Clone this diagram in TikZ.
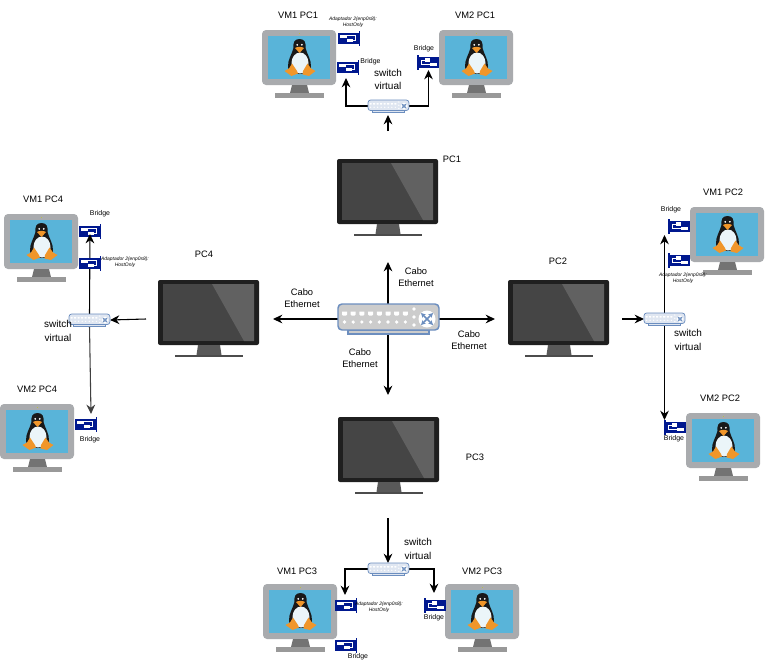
\documentclass[tikz,border=0pt]{standalone}
\usepackage{fontspec}
\setmainfont{Liberation Sans}
\usetikzlibrary{arrows.meta}
\definecolor{nicblue}{HTML}{00188F}
\definecolor{swline}{HTML}{6C8EBF}
\definecolor{screenblue}{HTML}{59B4D9}
\definecolor{bezel}{HTML}{A9ABAE}
\definecolor{pengorange}{HTML}{F0962A}
\definecolor{dotyellow}{HTML}{B9BE4A}
\newcommand\drawsw[3]{%
  \fill[#2,draw=swline,line width=#1] (10,26) rectangle (91,30);
  \fill[#2,draw=swline,line width=#1,rounded corners=#3] (0,0) rectangle (101,26);
  \foreach \i in {0,...,7}{
    \fill[white] (4+\i*8.7,7.5) -- ++(5,0) -- ++(0,3) -- ++(-1.2,1.2) -- ++(-2.6,0) -- ++(-1.2,-1.2) -- cycle;
    \fill[white] (6.5+\i*8.7,18) circle[radius=1.8];
  }
  \foreach \j in {5,13,21}{\fill[white] (76,\j) circle[radius=1.8];}
  \fill[white] (89,15) circle[radius=8.5];
  \draw[swline,line width=#1,{Stealth[length=3.2*#1,width=3.2*#1]}-{Stealth[length=3.2*#1,width=3.2*#1]}] (83,9) -- (95,21);
  \draw[swline,line width=#1,{Stealth[length=3.2*#1,width=3.2*#1]}-{Stealth[length=3.2*#1,width=3.2*#1]}] (95,9) -- (83,21);
}
\tikzset{
  x=0.75pt,y=-0.75pt,
  >={Stealth[length=7pt,width=6.5pt]},
  conn/.style={draw=black,line width=0.8pt},
  lab/.style={inner sep=0pt,font=\fontsize{7}{8}\selectfont},
  swlab/.style={inner sep=0pt,font=\fontsize{7.5}{9}\selectfont},
  brlab/.style={inner sep=0pt,font=\fontsize{5.2}{6}\selectfont},
  tinylab/.style={inner sep=0pt,font=\fontsize{3.7}{4.4}\selectfont\itshape,align=center},
  hitbox/.style={inner sep=0pt,outer sep=0pt},
  pics/hubsw/.style={code={\drawsw{1.1pt}{black!20}{3pt}}},
  pics/smallsw/.style={code={\drawsw{0.55pt}{swline!22!white}{2pt}}},
  pics/nicright/.style={code={
    \fill[nicblue] (0,1.5) rectangle (20.5,13);
    \fill[nicblue] (20.5,0) rectangle (22,14.5);
    \fill[white] (1.5,3.5) rectangle (8.5,7);
    \fill[white] (8.5,7.5) rectangle (14.5,11);
    \draw[white,line width=0.35pt] (8.5,4.5) -- (17.5,4.5) -- (17.5,9) -- (14.5,9);
  }},
  pics/nicleft/.style={code={
    \fill[nicblue] (1.5,1.5) rectangle (22,13);
    \fill[nicblue] (0,0) rectangle (1.5,14.5);
    \fill[white] (7.5,3) rectangle (13,7);
    \fill[white] (13,7.5) rectangle (20,10.5);
    \draw[white,line width=0.35pt] (7.5,5) -- (4,5) -- (4,9) -- (13,9);
  }},
  pics/vmpic/.style={code={
    \fill[bezel,rounded corners=3pt] (0,0) rectangle (74,55);
    \fill[screenblue] (6,6) rectangle (68,49);
    \fill[dotyellow] (36.6,2.5) rectangle (37.8,3.7);
    \fill[black!55] (30,55) -- (45,55) -- (47,63) -- (28,63) -- cycle;
    \fill[black!40] (13,63) rectangle (62,68);
    % penguin
    \fill[black!90] (37.5,9) .. controls (32,9) and (31,13) .. (31.5,18)
       .. controls (30,24) and (25.5,30) .. (26,37) .. controls (26,41) and (31,44) .. (37.5,44)
       .. controls (44,44) and (49,41) .. (49,37) .. controls (49.5,30) and (45,24) .. (43.5,18)
       .. controls (44,13) and (43,9) .. (37.5,9) -- cycle;
    \fill[black!5!screenblue!12!white] (38,33) ellipse[x radius=8.5,y radius=10.5];
    \fill[black!90] (32,17.5) rectangle (43,22);
    \fill[white] (35.2,14.8) circle[radius=1];
    \fill[white] (39.8,14.8) circle[radius=1];
    \fill[pengorange] (33,18) .. controls (35,16.5) and (40,16.5) .. (42,18) -- (37.5,23) -- cycle;
    \fill[pengorange] (30,33.5) -- (35,41) -- (36,43.5) -- (29.5,46) -- (22.5,41) -- (27,38.5) -- cycle;
    \fill[pengorange] (45.5,33.5) -- (41,41) -- (40.5,44.5) -- (47,46) -- (53.5,41) -- (49,38.5) -- cycle;
  }},
  pics/pcpic/.style={code={
    \fill[black!88,rounded corners=1.5pt] (0,0) rectangle (101,65);
    \fill[black!73] (5,4) rectangle (96,61);
    \fill[black!62] (54,4) -- (96,4) -- (96,61) -- (86,61) -- cycle;
    \fill[black!65] (40,65) -- (62,65) -- (63.5,75) -- (38.5,75) -- cycle;
    \fill[black!70] (17,75) rectangle (85,77);
  }},
}
\begin{document}
\begin{tikzpicture}
\useasboundingbox (0,0) rectangle (765,664);
\fill[white] (0,0) rectangle (765,664);

% anchors of the connectors
\node[hitbox,minimum width=75.75pt,minimum height=22.5pt] (hub) at (388.5,319) {};
\node[hitbox,minimum width=30.75pt,minimum height=9pt] (swa) at (388.5,106) {};
\node[hitbox,minimum width=30.75pt,minimum height=9pt] (swb) at (664.5,319) {};
\node[hitbox,minimum width=30.75pt,minimum height=9pt] (swc) at (388.5,569) {};
\node[hitbox,minimum width=30.75pt,minimum height=9pt] (swd) at (89.5,320) {};
\coordinate (hubN) at (388,262);
\coordinate (hubE) at (495,319);
\coordinate (hubS) at (388,395);
\coordinate (hubW) at (273,319);
\coordinate (aIn) at (388,131);
\coordinate (aTop) at (388,115);
\coordinate (aL) at (346,78);
\coordinate (aR) at (428.5,70);
\coordinate (bIn) at (622,319);
\coordinate (bU) at (664.5,235);
\coordinate (bD) at (664.5,420);
\coordinate (cIn) at (388,518);
\coordinate (cL) at (345,595);
\coordinate (cR) at (434,593);
\coordinate (dIn) at (146,319);
\coordinate (dU) at (90,234);
\coordinate (dD) at (91,414);

% computers
\pic at (337,159) {pcpic};
\pic at (508,280) {pcpic};
\pic at (338,417) {pcpic};
\pic at (158,280) {pcpic};
% virtual machines
\pic at (262,30) {vmpic};
\pic at (439,30) {vmpic};
\pic at (690,207) {vmpic};
\pic at (686,413) {vmpic};
\pic at (263,584) {vmpic};
\pic at (445,584) {vmpic};
\pic at (4,214) {vmpic};
\pic at (0,404) {vmpic};

% connectors
\draw[conn,->] (hub.north -| hubN) -- (hubN);
\draw[conn,->] (hub.east) -- (hubE);
\draw[conn,->] (hub.south -| hubS) -- (hubS);
\draw[conn,->] (hub.west) -- (hubW);
\draw[conn,->] (aIn) -- (aTop);
\draw[conn,->] (swa.west) -| (aL);
\draw[conn,->] (swa.east) -| (aR);
\draw[conn,->] (bIn) -- (swb.west);
\draw[conn,->] (swc.west) -| (cL);
\draw[conn,->] (swc.east) -| (cR);
\draw[conn,->] (cIn) -- (swc.north -| cIn);
\draw[conn,->] (dIn) -- (swd.east);

% network cards
\pic at (338,31) {nicright};
\pic at (337,60) {nicright};
\pic at (417,55) {nicleft};
\pic at (79,224) {nicright};
\pic at (75,417) {nicright};
\pic at (668,219) {nicleft};
\pic at (668,253) {nicleft};
\pic at (664,420) {nicleft};
\pic at (335,598) {nicright};
\pic at (335,638) {nicright};
\pic at (424,598) {nicleft};

\draw[conn,->] (swb.north) -- (bU);
\draw[conn,->] (swb.south) -- (bD);
\draw[conn,->] (swd.north) -- (dU);
\draw[conn,->,black!75] (swd.south) -- (dD);
\pic at (79,256) {nicright};

% switches
\pic at (338,304) {hubsw};
\pic[scale=0.405] at (368,100) {smallsw};
\pic[scale=0.405] at (644,313) {smallsw};
\pic[scale=0.405] at (368,563) {smallsw};
\pic[scale=0.405] at (69,314) {smallsw};

% labels
\node[lab] (l1) at (298,15) {VM1 PC1};
\node[lab] (l2) at (475,15) {VM2 PC1};
\node[lab] (l3) at (43,199) {VM1 PC4};
\node[lab] (l4) at (37,389) {VM2 PC4};
\node[lab] (l5) at (723,192) {VM1 PC2};
\node[lab] (l6) at (720,398) {VM2 PC2};
\node[lab] (l7) at (297,571) {VM1 PC3};
\node[lab] (l8) at (482,571) {VM2 PC3};
\node[lab] (p1) at (452,159) {PC1};
\node[lab] (p2) at (558,261) {PC2};
\node[lab] (p3) at (475,457) {PC3};
\node[lab] (p4) at (204,254) {PC4};
\node[lab,align=center] (c1) at (416,277.5) {Cabo\\[1.2pt]Ethernet};
\node[lab,align=center] (c2) at (469,340.5) {Cabo\\[1.2pt]Ethernet};
\node[lab,align=center] (c3) at (302,298.5) {Cabo\\[1.2pt]Ethernet};
\node[lab,align=center] (c4) at (360,358.5) {Cabo\\[1.2pt]Ethernet};
\node[swlab,align=center] (s1) at (388,79.5) {switch\\[1.2pt]virtual};
\node[swlab,align=center] (s2) at (688,340) {switch\\[1.2pt]virtual};
\node[swlab,align=center] (s3) at (418,549) {switch\\[1.2pt]virtual};
\node[swlab,align=center] (s4) at (58,331) {switch\\[1.2pt]virtual};
\node[brlab] (b1) at (370.5,62) {Bridge};
\node[brlab] (b2) at (424,49) {Bridge};
\node[brlab] (b3) at (100,214) {Bridge};
\node[brlab] (b4) at (90,440) {Bridge};
\node[brlab] (b5) at (671,210) {Bridge};
\node[brlab] (b6) at (674,439) {Bridge};
\node[brlab] (b7) at (358,657) {Bridge};
\node[brlab] (b8) at (434,618) {Bridge};
\node[tinylab] (t1) at (353,22.5) {Adaptador 2(enp0s8):\\HostOnly};
\node[tinylab] (t2) at (125,262.5) {Adaptador 2(enp0s8):\\HostOnly};
\node[tinylab] (t3) at (683,278.5) {Adaptador 2(enp0s8):\\HostOnly};
\node[tinylab] (t4) at (379,607.5) {Adaptador 2(enp0s8):\\HostOnly};
\end{tikzpicture}
\end{document}
